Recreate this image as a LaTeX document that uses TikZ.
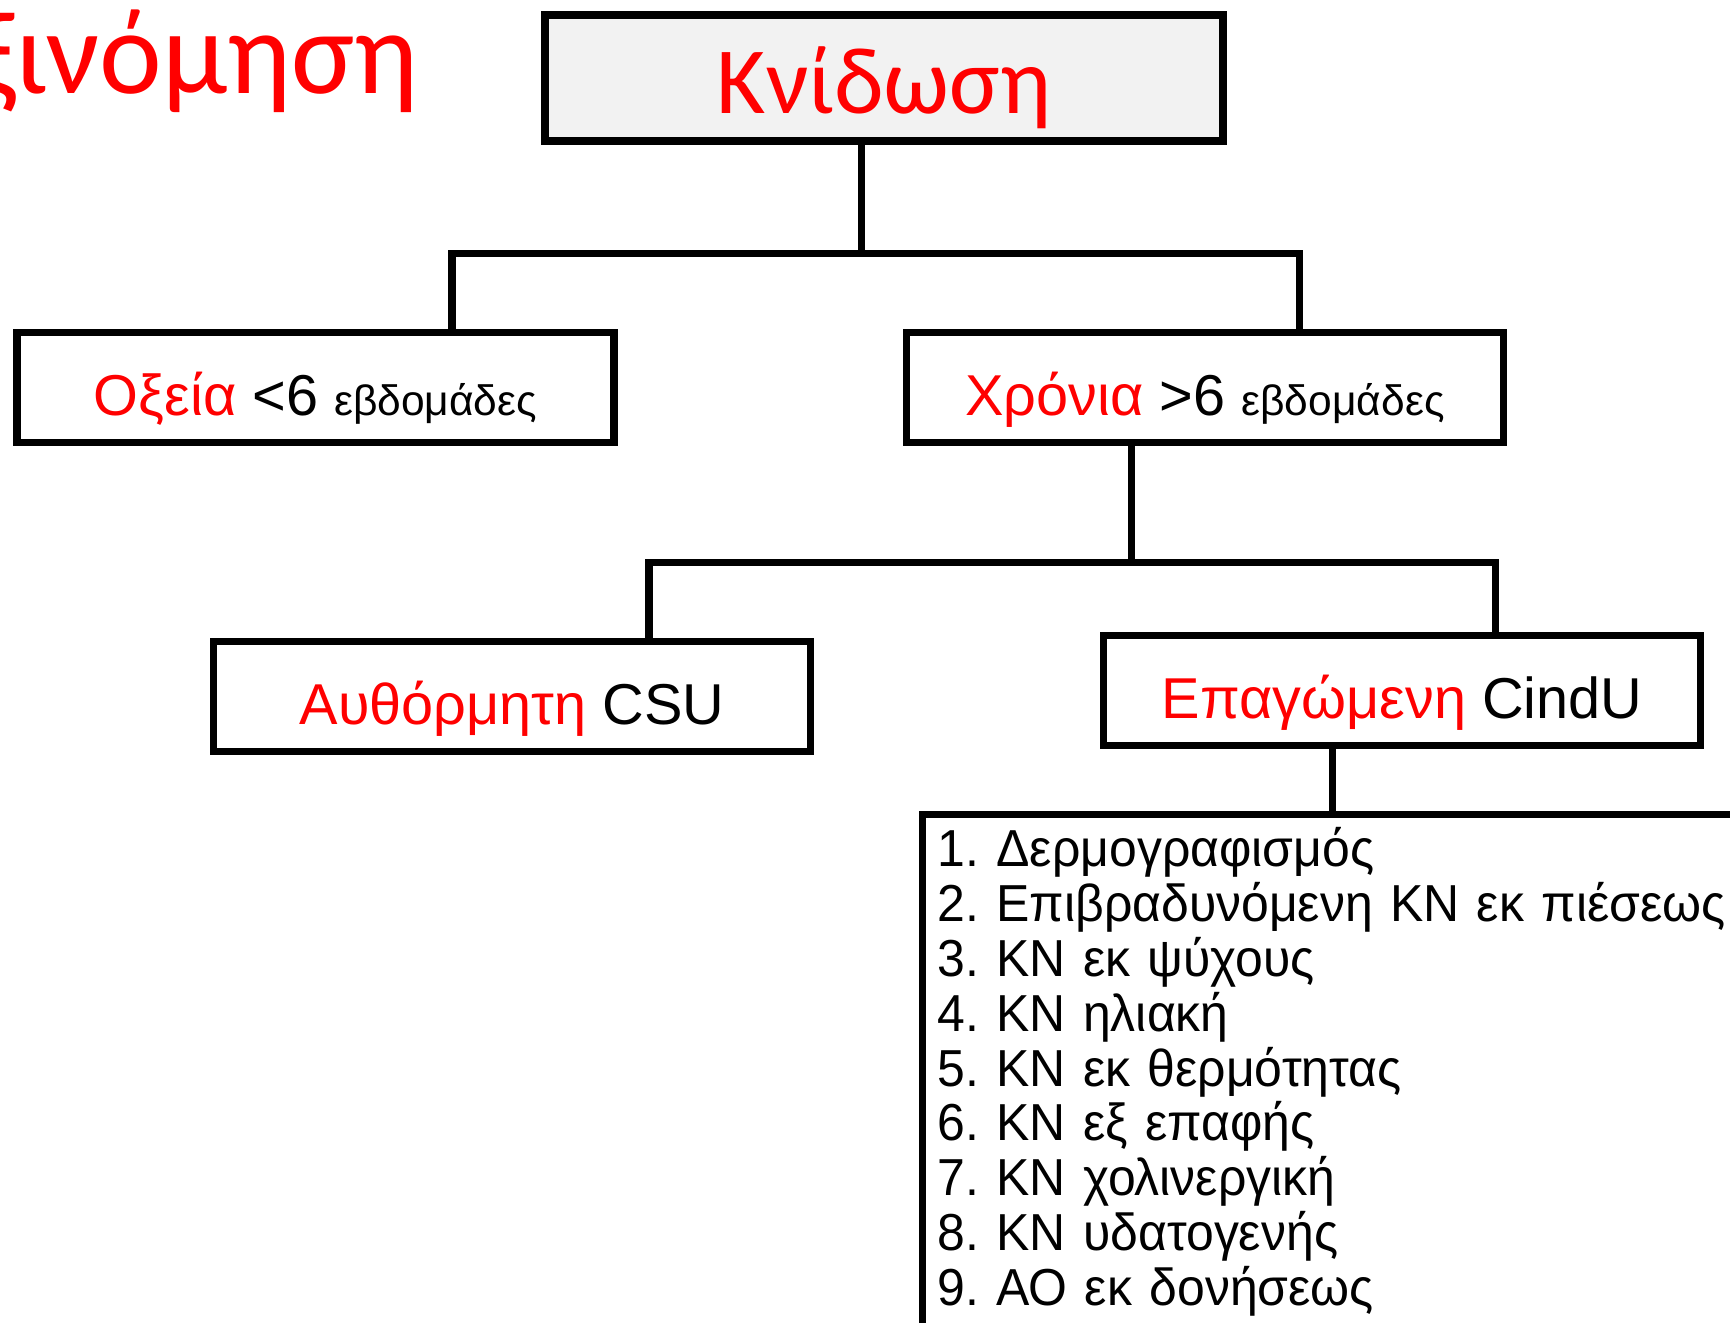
\documentclass[tikz,border=0pt]{standalone}
\usepackage{fontspec}
\setmainfont{Liberation Sans}
\newfontfamily\calibfont{Carlito}
\newfontfamily\listfont[FakeStretch=0.96]{Liberation Sans}
\usepackage{xcolor}
\definecolor{boxgray}{HTML}{F2F2F2}
\tikzstyle{box} = [draw, line width=2pt, inner sep=0pt, minimum width=5.97cm, minimum height=1.10cm, text height=0.56cm, text depth=0pt, font=\fontsize{16.4}{19}\selectfont]
\tikzstyle{conn} = [line width=2pt]
\newcommand{\wk}[1]{{\fontsize{12.1}{14}\selectfont #1}}
\frenchspacing

\begin{document}
\begin{tikzpicture}
    \useasboundingbox (0,0) rectangle (17.30,13.23);

    % Title, cut at the left edge
    \node[red, inner sep=0pt, anchor=base east, font=\calibfont\fontsize{33.8}{40}\selectfont] (title) at (4.19,12.29) {ξινόμηση};

    % Top box
    \node[box, fill=boxgray, line width=2.3pt, minimum width=6.78cm, minimum height=1.26cm, text height=0.72cm, text=red, font=\calibfont\fontsize{27}{32}\selectfont] (kn) at (8.84,12.45) {Κνίδωση};

    % Duration
    \node[box] (oxeia) at (3.155,9.35) {\textcolor{red}{Οξεία} <6 \wk{εβδομάδες}};
    \node[box] (xronia) at (12.05,9.35) {\textcolor{red}{Χρόνια} >6 \wk{εβδομάδες}};

    % Chronic types
    \node[box] (csu) at (5.12,6.265) {\textcolor{red}{Αυθόρμητη} CSU};
    \node[box] (cindu) at (14.02,6.325) {\textcolor{red}{Επαγώμενη} CindU};

    % List (runs off the page)
    \node[draw, line width=2pt, anchor=north west, inner xsep=0.15cm, inner ysep=0.13cm, text width=9cm, align=left, text depth=5.5cm, font=\listfont\fontsize{14.8}{15.6}\selectfont] (list) at (9.19,5.12) {1. Δερμογραφισμός\\
2. Επιβραδυνόμενη ΚΝ εκ πιέσεως\\
3. ΚΝ εκ ψύχους\\
4. ΚΝ ηλιακή\\
5. ΚΝ εκ θερμότητας\\
6. ΚΝ εξ επαφής\\
7. ΚΝ χολινεργική\\
8. ΚΝ υδατογενής\\
9. ΑΟ εκ δονήσεως};

    % Connectors
    \coordinate (s1) at (8.61,10.69);
    \coordinate (s1l) at (4.52,10.69);
    \coordinate (s1r) at (12.99,10.69);
    \draw[conn] (kn.south -| s1) -- (s1);
    \draw[conn] (oxeia.north -| s1l) -- (s1l) -- (s1r) -- (xronia.north -| s1r);

    \coordinate (s2) at (11.31,7.60);
    \coordinate (s2l) at (6.49,7.60);
    \coordinate (s2r) at (14.95,7.60);
    \draw[conn] (xronia.south -| s2) -- (s2);
    \draw[conn] (csu.north -| s2l) -- (s2l) -- (s2r) -- (cindu.north -| s2r);

    \coordinate (s3) at (13.32,5.12);
    \draw[conn] (cindu.south -| s3) -- (list.north -| s3);
\end{tikzpicture}
\end{document}
